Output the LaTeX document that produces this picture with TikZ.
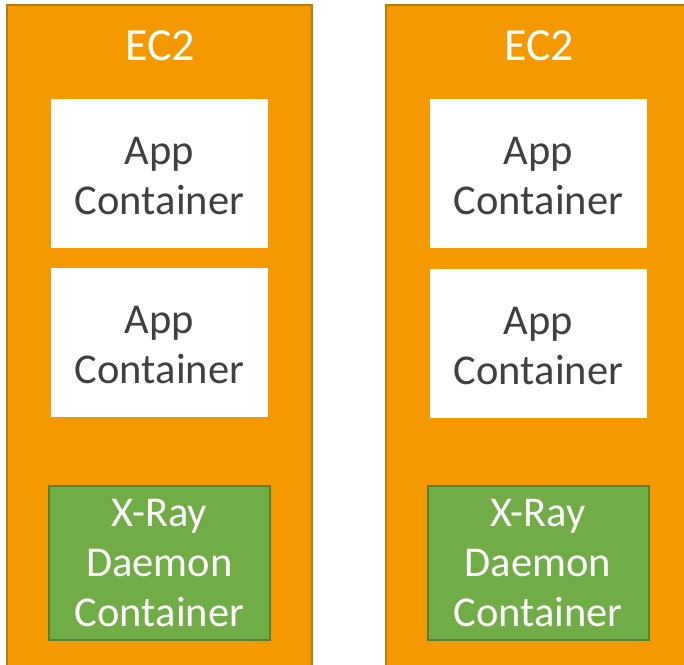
\documentclass[tikz,border=0pt]{standalone}
\usepackage{fontspec}
\setmainfont{Carlito}
\usepackage{xcolor}
\definecolor{ecorange}{HTML}{F49A00}
\definecolor{ecedge}{HTML}{B87A12}
\definecolor{appgray}{HTML}{404040}
\definecolor{xgreen}{HTML}{70AD47}
\definecolor{xedge}{HTML}{548235}

\begin{document}
\begin{tikzpicture}[x=1pt, y=-1pt, font=\fontsize{42.5}{50}\selectfont,
    hostbox/.style={fill=ecorange, draw=ecedge, line width=2pt},
    appbox/.style={fill=white, minimum width=217pt, minimum height=149pt, inner sep=0pt},
    apptext/.style={text=appgray, align=center, inner sep=0pt, yshift=-2.5pt},
    xraybox/.style={fill=xgreen, draw=xedge, line width=2pt, text=white, minimum width=221pt, minimum height=154pt, align=center, inner sep=0pt},
    hostlabel/.style={text=white, inner sep=0pt, font=\fontsize{46}{50}\selectfont}]

    % 1. Page frame
    \useasboundingbox (0,0) rectangle (684,664);
    \clip (0,0) rectangle (684,664);

    % 2. The two EC2 hosts
    \draw[hostbox] (7,5) rectangle (312,700);
    \draw[hostbox] (386,5) rectangle (720,700);

    % 3. Host labels
    \node[hostlabel] (ecA) at (160,46) {EC2};
    \node[hostlabel] (ecB) at (539,46) {EC2};

    % 4. App containers
    \node[appbox] (appA1) at (159.5,173.5) {};
    \node[appbox] (appA2) at (159.5,342.5) {};
    \node[appbox] (appB1) at (538.5,173.5) {};
    \node[appbox] (appB2) at (538.5,343.5) {};
    \foreach \cname in {appA1, appA2, appB1, appB2}
        \node[apptext] (\cname-text) at (\cname.center) {App\\Container};

    % 5. X-Ray daemon containers
    \node[xraybox] (xrayA) at (159.5,563) {X-Ray\\Daemon\\Container};
    \node[xraybox] (xrayB) at (538,563) {X-Ray\\Daemon\\Container};
\end{tikzpicture}
\end{document}
